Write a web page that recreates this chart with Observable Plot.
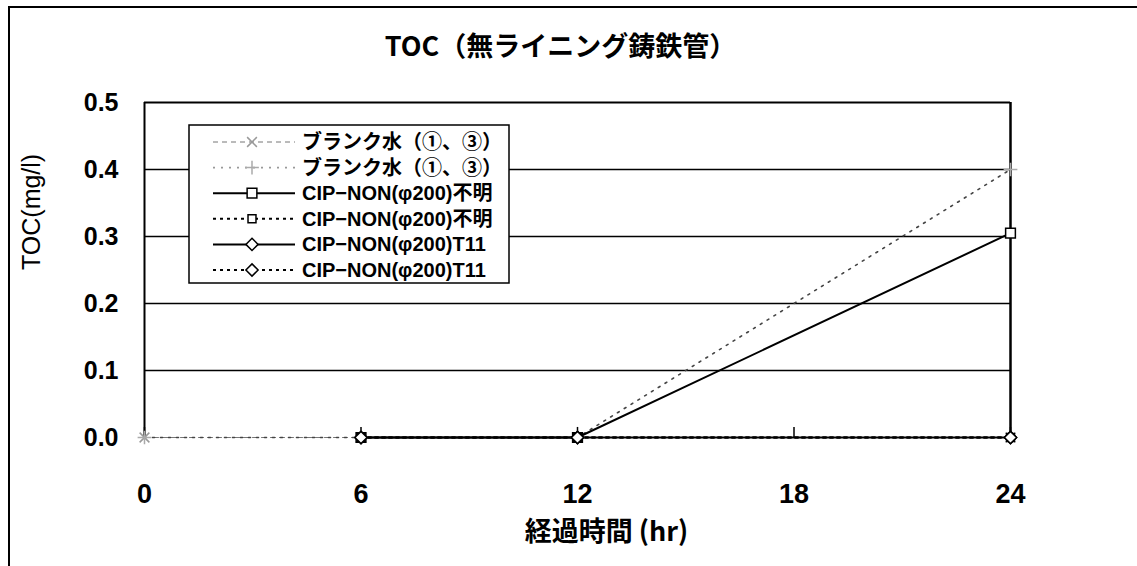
<!DOCTYPE html>
<html><head><meta charset="utf-8">
<script src="https://cdn.jsdelivr.net/npm/d3@7"></script>
<script src="https://cdn.jsdelivr.net/npm/@observablehq/plot@0.6"></script>
<style>
body{margin:0;background:#fff;}
#chart{position:relative;width:1137px;height:566px;overflow:hidden;}
</style></head><body><div id="chart"></div>
<script>
// ---- data ----
const titleText = "TOC（無ライニング鋳鉄管）";
const xLabel = "経過時間 (hr)";
const yLabel = "TOC(mg/l)";
const xTicks = [0, 6, 12, 18, 24];
const yTicks = [0, 0.1, 0.2, 0.3, 0.4, 0.5];
const gridValues = [0.1, 0.2, 0.3, 0.4];
const blankHours = [0, 6, 12, 24];
const cipHours = [6, 12, 24];
const seriesNames = [
  "ブランク水（①、③）",
  "ブランク水（①、③）",
  "CIP−NON(φ200)不明",
  "CIP−NON(φ200)不明",
  "CIP−NON(φ200)T11",
  "CIP−NON(φ200)T11"
];
const blankSolidVals = [0, 0, 0, 0];
const blankDottedVals = [0, 0, 0, 0.40];
const cipUnknownSolidVals = [0, 0, 0.305];
const cipUnknownDottedVals = [0, 0, 0];
const cipT11SolidVals = [0, 0, 0];
const cipT11DottedVals = [0, 0, 0];

// styles per series
const styles = [
  {stroke: "#777", dash: "5,4", width: 1, symbol: "times", mstroke: "#999", fill: "none", r: 4.5},
  {stroke: "#444", dash: "2,6", width: 1.6, symbol: "plus", mstroke: "#aaa", fill: "none", r: 4.5},
  {stroke: "#000", dash: null, width: 2, symbol: "square", mstroke: "#000", fill: "white", r: 5.5},
  {stroke: "#000", dash: "3,4", width: 2, symbol: "square", mstroke: "#000", fill: "white", r: 4.5},
  {stroke: "#000", dash: null, width: 2, symbol: "diamond2", mstroke: "#000", fill: "white", r: 5.5},
  {stroke: "#000", dash: "3,4", width: 2, symbol: "diamond2", mstroke: "#000", fill: "white", r: 5.5}
];

const seriesData = [
  blankHours.map((h, i) => ({hour: h, toc: blankSolidVals[i]})),
  blankHours.map((h, i) => ({hour: h, toc: blankDottedVals[i]})),
  cipHours.map((h, i) => ({hour: h, toc: cipUnknownSolidVals[i]})),
  cipHours.map((h, i) => ({hour: h, toc: cipUnknownDottedVals[i]})),
  cipHours.map((h, i) => ({hour: h, toc: cipT11SolidVals[i]})),
  cipHours.map((h, i) => ({hour: h, toc: cipT11DottedVals[i]}))
];

const lineMarks = [];
const dotMarks = [];
seriesData.forEach((d, i) => {
  const s = styles[i];
  lineMarks.push(Plot.line(d, {x: "hour", y: "toc", stroke: s.stroke, strokeWidth: s.width, strokeDasharray: s.dash}));
  dotMarks.push(Plot.dot(d, {x: "hour", y: "toc", symbol: () => s.symbol, r: s.r, stroke: s.mstroke, fill: s.fill, strokeWidth: 1.5}));
});

const chart = Plot.plot({
  width: 1137,
  height: 566,
  marginLeft: 144,
  marginRight: 127,
  marginTop: 102,
  marginBottom: 129,
  style: {fontFamily: "'Liberation Sans','Noto Sans CJK JP',sans-serif", background: "white", overflow: "visible", color: "black"},
  x: {domain: [0, 24]},
  y: {domain: [0, 0.5]},
  symbol: {type: "identity"},
  marks: [
    Plot.ruleY(gridValues, {stroke: "black", strokeWidth: 1.3}),
    Plot.ruleY([0.5], {stroke: "black", strokeWidth: 2}),
    Plot.ruleX([0], {stroke: "black", strokeWidth: 2}),
    Plot.ruleX([24], {stroke: "black", strokeWidth: 2.5}),
    Plot.ruleX(xTicks, {y1: 0, y2: 0.015, stroke: "black", strokeWidth: 1.5}),
    ...lineMarks,
    ...dotMarks,
    Plot.axisY({ticks: yTicks, tickFormat: d3.format(".1f"), tickSize: 0, tickPadding: 26, fontSize: 25, fontWeight: "bold", label: null}),
    Plot.axisX({ticks: xTicks, tickFormat: d => String(d), tickSize: 0, tickPadding: 46, fontSize: 27, fontWeight: "bold", label: null}),
    Plot.text([titleText], {text: d => d, frameAnchor: "top", lineAnchor: "middle", dx: -17, dy: -55, fontSize: 27, fontWeight: "bold", fontFamily: "'Noto Sans CJK JP',sans-serif"}),
    Plot.text([yLabel], {text: d => d, frameAnchor: "left", dx: -113, rotate: -90, fontSize: 25}),
    Plot.text([xLabel], {text: d => d, frameAnchor: "bottom", lineAnchor: "middle", dx: 29, dy: 95, fontSize: 27, fontWeight: "bold", fontFamily: "'Noto Sans CJK JP',sans-serif"})
  ]
});

document.getElementById("chart").appendChild(chart);

// outer frame
const svg = d3.select(chart);
svg.append("rect").attr("x", 9).attr("y", 7).attr("width", 1300).attr("height", 700)
  .attr("fill", "none").attr("stroke", "black").attr("stroke-width", 2);

// legend
const lg = svg.append("g");
lg.append("rect").attr("x", 189).attr("y", 125).attr("width", 320).attr("height", 158)
  .attr("fill", "white").attr("stroke", "black").attr("stroke-width", 1.5);
const symMap = {times: d3.symbolTimes, plus: d3.symbolPlus, square: d3.symbolSquare, diamond2: d3.symbolDiamond2};
seriesNames.forEach((name, i) => {
  const s = styles[i];
  const cy = 142 + i * 25.6;
  lg.append("line").attr("x1", 213).attr("x2", 295).attr("y1", cy).attr("y2", cy)
    .attr("stroke", i === 1 ? "#999" : s.stroke).attr("stroke-width", s.width)
    .attr("stroke-dasharray", s.dash);
  lg.append("path").attr("transform", `translate(252,${cy})`)
    .attr("d", d3.symbol(symMap[s.symbol], Math.PI * s.r * s.r)())
    .attr("fill", s.fill).attr("stroke", s.mstroke).attr("stroke-width", 1.5);
  lg.append("text").attr("x", 302).attr("y", cy).attr("dy", "0.35em")
    .attr("text-anchor", "start")
    .attr("font-size", 20).attr("font-weight", "bold")
    .attr("font-family", "'Liberation Sans','Noto Sans CJK JP',sans-serif")
    .text(name);
});
</script>
</body></html>
